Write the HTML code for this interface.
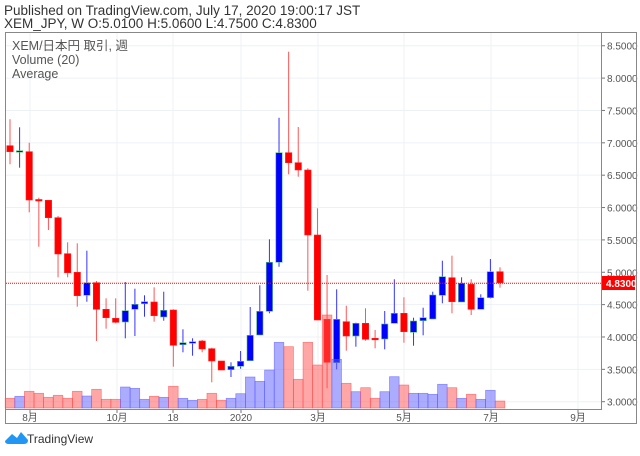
<!DOCTYPE html>
<html><head><meta charset="utf-8"><style>
body{margin:0;background:#fff;width:640px;height:451px;overflow:hidden;font-family:"Liberation Sans","Noto Sans CJK JP",sans-serif}
</style></head><body>
<svg id="s" width="640" height="451" xmlns="http://www.w3.org/2000/svg" font-family="Liberation Sans, Noto Sans CJK JP, sans-serif"></svg>
<script>
const C=[
['r',145.7,151.7,119.3,164.3],['b',150.7,150.7,127.3,167.7],['r',151.7,200,142.7,212.3],['r',199.5,200.5,197.7,246.7],
['r',200.3,217.7,200.3,230],['r',217.7,254,216,277.3],['r',253.7,272.7,242.3,277.3],['r',272.3,295.7,243.3,306.7],
['b',295.3,282.7,250.7,301.7],['r',282.7,309.3,281,341],['r',309.3,317.7,298.3,328.7],['r',318.3,322.3,298.3,323.3],
['b',322,310.7,282,338.3],['b',309.3,304.3,288.7,336],['b',303.7,301.7,295.3,316.7],['r',302,315.7,287.3,321.7],
['b',317,310.3,291.7,320.7],['r',310,345.3,309.3,366.7],['b',344.7,342.7,329.3,352.3],['b',343.3,341.7,338.3,355.7],
['r',341,349,340,352.3],['r',348.7,361,347.7,382.3],['r',361,370,361,370],['b',369.7,366.3,362.3,377],
['b',366.3,361.3,351,368.7],['b',360.7,335.3,307,360.7],['b',335,311.3,285.3,335],['b',311.3,262.3,239.3,313.3],
['b',262.3,152.7,117.7,266.7],['r',152.7,162.7,51.7,174.3],['r',162.7,170,127,176.7],['r',170,235,168.3,290.7],
['r',235,320,208.3,320],['r',319.3,362.3,275,388.3],['b',362.7,319.3,289.3,369.3],['r',321.7,336,305.7,350.7],
['b',336,323.3,322.7,346.7],['r',323.3,339.3,308.3,340.7],['r',338.3,339.3,330,348.3],['b',339,324,311,349.3],
['b',323.3,313.3,279.3,323.3],['r',313.3,331.7,297.3,342.7],['b',332.3,321,317.7,345.7],['b',320.7,317.7,307.7,335.3],
['b',319,295,291.7,319],['b',295.3,276.7,260.7,303.3],['r',277.7,301.7,255.7,313.3],['b',302,283.3,277.3,302],
['r',284.3,309.3,279.3,315],['b',309.3,297.7,294.3,309.3],['b',297.7,271.7,259,298.3],['r',271.7,282.7,267.3,287.7]];
const V=[398.3,396.3,391.3,393.3,397.3,395.3,398.3,391.3,396,389.3,399.3,399.3,387,388.3,399.3,396.3,397.3,386.3,398.3,400.3,399.3,393.3,400.3,398.3,393.7,377,381.3,370,342.3,346.7,379.3,342.3,365,315,359.3,383.3,391.7,387.7,398.3,391.7,376.7,385,393.3,393.3,394.3,384.3,387.7,398.3,394.3,399.3,390.3,401];
let h='';
h+='<text x="4" y="15" font-size="13.5" fill="#333">Published on TradingView.com, July 17, 2020 19:00:17 JST</text>';
h+='<text x="4" y="28" font-size="13.5" fill="#333">XEM_JPY, W O:5.0100 H:5.0600 L:4.7500 C:4.8300</text>';
// grid
for(let i=0;i<12;i++){const y=401.7-i*32.36;h+=`<line x1="6" x2="601" y1="${y}" y2="${y}" stroke="#edf1f6"/>`;
h+=`<line x1="601" x2="605" y1="${y}" y2="${y}" stroke="#777"/><text x="607" y="${y+4}" font-size="10" fill="#555">${(3+i*0.5).toFixed(4)}</text>`;}
const M=[[30,'8月'],[117,'10月'],[173,'18'],[241,'2020'],[318,'3月'],[404,'5月'],[491,'7月'],[578,'9月']];
M.forEach(m=>{h+=`<line x1="${m[0]}" x2="${m[0]}" y1="33" y2="409" stroke="#edf1f6"/><line x1="${m[0]}" x2="${m[0]}" y1="409" y2="413" stroke="#777"/><text x="${m[0]}" y="421" font-size="10" fill="#555" text-anchor="middle">${m[1]}</text>`;});
// candles
const sp=9.608;
C.forEach((c,i)=>{const x=10+i*sp;const red=c[0]=='r';
h+=`<line x1="${x}" x2="${x}" y1="${c[3]}" y2="${c[4]}" stroke="${red?'#ff5555':'#3333ff'}" stroke-width="1"/>`;
const t=Math.min(c[1],c[2]),bh=Math.max(Math.abs(c[1]-c[2]),1.5);
h+=`<rect x="${x-3.2}" y="${t}" width="6.4" height="${bh}" fill="${red?'#ff0000':'#0000ff'}" stroke="${red?'#ff2020':'#5fbf7f'}" stroke-width="0.6"/>`;});
V.forEach((v,i)=>{const x=10+i*sp;const red=C[i][0]=='r';
h+=`<rect x="${x-sp/2}" y="${v}" width="${sp}" height="${408-v}" fill="${red?'rgba(255,80,80,0.5)':'rgba(90,90,255,0.5)'}" stroke="${red?'rgba(255,60,60,0.6)':'rgba(80,80,255,0.6)'}" stroke-width="0.7"/>`;});
h+='<line x1="6" x2="601" y1="283.2" y2="283.2" stroke="#ff0000" stroke-dasharray="1,1"/>';
h+='<rect x="601" y="276" width="34" height="14" fill="#ff0000"/><text x="606" y="287" font-size="10" font-weight="bold" fill="#fff">4.8300</text>';
h+='<rect x="5.5" y="32.5" width="596" height="377" fill="none" stroke="#888"/>';
h+='<rect x="5.5" y="32.5" width="631" height="391" fill="none" stroke="#888"/>';
h+='<text x="12" y="50" font-size="12.5" fill="#555">XEM/日本円 取引, 週</text><text x="12" y="64" font-size="12.5" fill="#555">Volume (20)</text><text x="12" y="78" font-size="12.5" fill="#555">Average</text>';
h+='<path d="M5 441 L12 434 L17 438 L21 432 L28 440 Q28 444 24 444 L9 444 Q5 444 5 441Z" fill="#2196f3"/>';
h+='<text x="27" y="443" font-size="12" fill="#333">TradingView</text>';
document.getElementById('s').innerHTML=h;
</script>
</body></html>
